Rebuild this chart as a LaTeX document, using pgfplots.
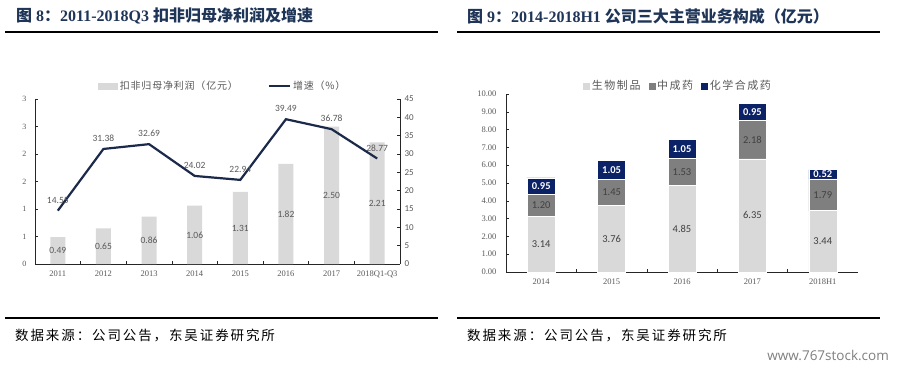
\documentclass[border=0pt]{standalone}
\usepackage{pgfplots}
\pgfplotsset{compat=1.18}
\usepackage{pgfplotstable}
\usepackage{fontspec}
\setmainfont{Liberation Serif}
\newfontfamily\cjk{Noto Sans CJK SC}
\newfontfamily\cjksp{Noto Sans CJK SC}[LetterSpace=14]
\newfontfamily\cjkleg{Noto Sans CJK SC}[LetterSpace=8]
\newfontfamily\cjklegb{Noto Sans CJK SC}[LetterSpace=14]
\newfontfamily\calib{Carlito}
\newfontfamily\wm{Open Sans}
\definecolor{titlec}{HTML}{1F3558}
\definecolor{lab}{HTML}{595959}
\definecolor{dlab}{HTML}{404040}
\definecolor{barc}{HTML}{D9D9D9}
\definecolor{midc}{HTML}{7F7F7F}
\definecolor{navy}{HTML}{0C2266}
\definecolor{linec}{HTML}{1B2A4A}
\definecolor{axc}{HTML}{262626}

\pgfplotstableread{
x bar mid blab g glab
0 0.49 0.245 0.49 14.55 14.55
1 0.65 0.325 0.65 31.38 31.38
2 0.86 0.430 0.86 32.69 32.69
3 1.06 0.530 1.06 24.02 24.02
4 1.31 0.655 1.31 22.94 22.94
5 1.82 0.910 1.82 39.49 39.49
6 2.50 1.250 2.50 36.78 36.78
7 2.21 1.105 2.21 28.77 28.77
}\leftdata

\pgfplotstableread{
x bio tcm chem mbio mtcm mchem
0 3.14 1.20 0.95 1.570 3.740 4.815
1 3.76 1.45 1.05 1.880 4.485 5.735
2 4.85 1.53 1.05 2.425 5.615 6.905
3 6.35 2.18 0.95 3.175 7.440 9.005
4 3.44 1.79 0.52 1.720 4.335 5.490
}\rightdata

\begin{document}
\begin{tikzpicture}[x=1pt,y=1pt]
\useasboundingbox (0,0) rectangle (898,-368);
\fill[white] (0,0) rectangle (898,-368);

% titles and rules
\node[anchor=west, inner sep=0pt, text=titlec] at (16,-16) {\bfseries\fontsize{16}{18}\selectfont{\cjk 图} 8{\cjk ：}2011-2018Q3 {\cjk 扣非归母净利润及增速}};
\node[anchor=west, inner sep=0pt, text=titlec] at (467,-16) {\bfseries\fontsize{16}{18}\selectfont{\cjk 图} 9{\cjk ：}2014-2018H1 {\cjk 公司三大主营业务构成（亿元）}};
\draw[line width=2.5pt] (5,-32) -- (438,-32);
\draw[line width=2.5pt] (457,-32) -- (880,-32);
\draw[line width=2pt] (5,-318) -- (438,-318);
\draw[line width=2pt] (457,-318) -- (880,-318);
\node[anchor=west, inner sep=0pt] at (15,-335) {\cjksp\fontsize{13.5}{15}\selectfont 数据来源：公司公告，东吴证券研究所};
\node[anchor=west, inner sep=0pt] at (467,-335) {\cjksp\fontsize{13.5}{15}\selectfont 数据来源：公司公告，东吴证券研究所};
\node[anchor=east, inner sep=0pt, text=midc] at (889,-355) {\wm\fontsize{13.5}{15}\selectfont www.767stock.com};

% ---------- left chart: bars ----------
\begin{axis}[
  at={(35pt,-264pt)}, anchor=south west, scale only axis,
  width=365pt, height=165pt,
  xmin=-0.5, xmax=7.5, ymin=0, ymax=3,
  axis x line*=bottom, axis y line*=left,
  axis line style={axc, line width=0.8pt},
  tick align=inside, major tick length=3pt, minor tick length=3pt,
  tick style={axc, line width=0.6pt},
  xtick={0,...,7},
  xticklabels={2011,2012,2013,2014,2015,2016,2017,2018Q1-Q3},
  major x tick style={draw=none},
  minor x tick style={draw=axc, line width=0.6pt},
  minor xtick={0.5,1.5,...,6.5},
  xticklabel style={font=\fontsize{8.5}{9}\selectfont, text=lab, yshift=-3pt},
  ytick={0,0.5,...,3},
  yticklabels={0,1,1,2,2,3,3},
  yticklabel style={font=\fontsize{8}{9}\selectfont, text=lab, xshift=-5pt},
  clip=false,
]
\addplot[ybar, bar width=15pt, fill=barc, draw=none] table[x=x, y=bar] \leftdata;
\addplot[draw=none, mark=none, nodes near coords, point meta=explicit symbolic,
  every node near coord/.append style={anchor=center, font=\calib\fontsize{9.5}{10}\selectfont, text=lab}]
  table[x=x, y=mid, meta=blab] \leftdata;
\end{axis}

% ---------- left chart: line ----------
\begin{axis}[
  at={(35pt,-264pt)}, anchor=south west, scale only axis,
  width=365pt, height=165pt,
  xmin=-0.5, xmax=7.5, ymin=0, ymax=45,
  axis x line=none, axis y line*=right,
  axis line style={axc, line width=0.8pt},
  tick align=inside, major tick length=3pt,
  tick style={axc, line width=0.6pt},
  ytick={0,5,...,45},
  /pgf/number format/assume math mode=true,
  yticklabel style={font=\calib\fontsize{9}{10}\selectfont, text=lab, xshift=1pt},
  clip=false,
  legend columns=2,
  legend style={draw=none, fill=none, at={(0.515,1)}, anchor=center, yshift=13pt,
    font=\cjkleg\fontsize{10}{11}\selectfont, text=lab,
    /tikz/every even column/.append style={column sep=28pt}},
]
\addlegendimage{legend image code/.code={\fill[barc] (0pt,-3pt) rectangle (19pt,3pt);}}
\addlegendentry{扣非归母净利润（亿元）}
\addplot[linec, line width=2.2pt, mark=none, nodes near coords, point meta=explicit symbolic,
  every node near coord/.append style={anchor=south, yshift=3pt, font=\calib\fontsize{9.5}{10}\selectfont, text=lab},
  legend image code/.code={\draw[linec, line width=2.2pt] (0pt,0pt) -- (21pt,0pt);}]
  table[x=x, y=g, meta=glab] \leftdata;
\addlegendentry{增速（\%）}
\end{axis}

% ---------- right chart: stacked bars ----------
\begin{axis}[
  at={(506pt,-272pt)}, anchor=south west, scale only axis,
  width=352pt, height=178pt,
  ybar stacked, bar width=28pt,
  xmin=-0.5, xmax=4.5, ymin=0, ymax=10,
  axis x line*=bottom, axis y line*=left,
  axis line style={axc, line width=0.8pt},
  tick align=inside, major tick length=3pt, minor tick length=3pt,
  tick style={axc, line width=0.6pt},
  xtick={0,...,4},
  xticklabels={2014,2015,2016,2017,2018H1},
  major x tick style={draw=none},
  minor x tick style={draw=axc, line width=0.6pt},
  minor xtick={0.5,1.5,2.5,3.5},
  xticklabel style={font=\fontsize{8.5}{9}\selectfont, text=lab, yshift=-3pt},
  ytick={0,1,...,10},
  yticklabels={0.00,1.00,2.00,3.00,4.00,5.00,6.00,7.00,8.00,9.00,10.00},
  yticklabel style={font=\fontsize{8.5}{9}\selectfont, text=lab, xshift=-6pt},
  clip=false,
  legend columns=3,
  legend style={draw=none, fill=none, at={(0.489,1)}, anchor=center, yshift=8pt,
    font=\cjklegb\fontsize{11}{12}\selectfont, text=lab},
]
\addplot[fill=barc, draw=white, line width=0.6pt,
  legend image code/.code={\fill[barc] (0pt,-3pt) rectangle (6pt,3pt);}]
  table[x=x, y=bio] \rightdata;
\addlegendentry{生物制品\rule{6pt}{0pt}}
\addplot[fill=midc, draw=white, line width=0.6pt,
  legend image code/.code={\fill[midc] (0pt,-3pt) rectangle (6pt,3pt);}]
  table[x=x, y=tcm] \rightdata;
\addlegendentry{中成药\rule{6pt}{0pt}}
\addplot[fill=navy, draw=white, line width=0.6pt,
  legend image code/.code={\fill[navy] (0pt,-3pt) rectangle (6pt,3pt);}]
  table[x=x, y=chem] \rightdata;
\addlegendentry{化学合成药}
\end{axis}

% ---------- right chart: labels ----------
\begin{axis}[
  at={(506pt,-272pt)}, anchor=south west, scale only axis,
  width=352pt, height=178pt,
  xmin=-0.5, xmax=4.5, ymin=0, ymax=10,
  hide axis, clip=false,
]
\addplot[draw=none, mark=none, nodes near coords, point meta=explicit symbolic,
  every node near coord/.append style={anchor=center, font=\calib\fontsize{10.5}{11}\selectfont, text=dlab}]
  table[x=x, y=mbio, meta=bio] \rightdata;
\addplot[draw=none, mark=none, nodes near coords, point meta=explicit symbolic,
  every node near coord/.append style={anchor=center, font=\calib\fontsize{10.5}{11}\selectfont, text=dlab}]
  table[x=x, y=mtcm, meta=tcm] \rightdata;
\addplot[draw=none, mark=none, nodes near coords, point meta=explicit symbolic,
  every node near coord/.append style={anchor=center, font=\calib\bfseries\fontsize{10.5}{11}\selectfont, text=white}]
  table[x=x, y=mchem, meta=chem] \rightdata;
\end{axis}
\end{tikzpicture}
\end{document}
